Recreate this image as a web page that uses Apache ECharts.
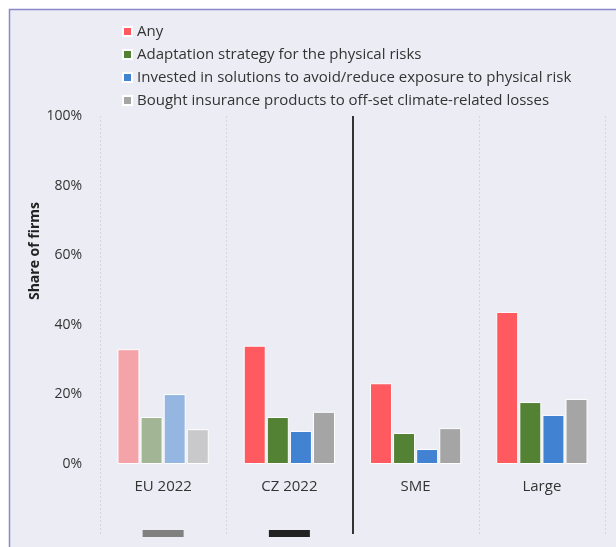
<!DOCTYPE html>
<html>
<head>
<meta charset="utf-8">
<script src="https://cdn.jsdelivr.net/npm/echarts@6/dist/echarts.min.js"></script>
<style>
  html, body { margin: 0; padding: 0; background: #fff; }
  #chart { width: 616px; height: 547px; }
</style>
</head>
<body>
<div id="chart"></div>
<script>
// categories and values (share of firms)
const categories = ['EU 2022', 'CZ 2022', 'SME', 'Large']
const seriesNames = [
  'Any',
  'Adaptation strategy for the physical risks',
  'Invested in solutions to avoid/reduce exposure to physical risk',
  'Bought insurance products to off-set climate-related losses'
]
const anyVals = [0.33, 0.34, 0.232, 0.437]
const adaptVals = [0.135, 0.135, 0.089, 0.178]
const investVals = [0.201, 0.095, 0.043, 0.141]
const insureVals = [0.10, 0.15, 0.103, 0.187]
const yTicks = [0, 0.2, 0.4, 0.6, 0.8, 1]

const colors = ['#FF5A5F', '#548235', '#4282D3', '#A5A5A5']
const fadedColors = ['#F4A3A8', '#A2B696', '#96B6E2', '#C9C9CC']
const allVals = [anyVals, adaptVals, investVals, insureVals]

const font = '"Open Sans", "Noto Sans", sans-serif'

const chart = echarts.init(document.getElementById('chart'))

// bar series, the EU column drawn in faded colours
const barSeries = allVals.map((vals, i) => ({
  name: seriesNames[i],
  type: 'bar',
  xAxisIndex: 0,
  yAxisIndex: 0,
  barWidth: 22,
  barGap: '5%',
  itemStyle: { color: colors[i], borderColor: '#fff', borderWidth: 1 },
  data: vals.map((v, j) => j === 0
    ? { value: v, itemStyle: { color: fadedColors[i] } }
    : v)
}))

const option = {
  backgroundColor: '#fff',
  animation: false,
  graphic: [{
    type: 'rect',
    z: -10,
    shape: { x: 9.5, y: 9.5, width: 700, height: 700 },
    style: { fill: '#ECECF5', stroke: '#8B88CC', lineWidth: 1.5 }
  }],
  legend: {
    orient: 'vertical',
    left: 117,
    top: 19,
    itemWidth: 9,
    itemHeight: 9,
    itemGap: 8,
    icon: 'rect',
    data: seriesNames,
    textStyle: { fontFamily: font, fontSize: 15, color: '#333' }
  },
  grid: [
    { left: 100, right: 11, top: 116, bottom: 83 },
    { left: 100, right: 11, top: 116, bottom: 13 }
  ],
  xAxis: [
    {
      type: 'category',
      gridIndex: 0,
      data: categories,
      axisLine: { show: false },
      axisTick: { show: false },
      axisLabel: { margin: 15, fontFamily: font, fontSize: 15, color: '#333' }
    },
    {
      type: 'value',
      gridIndex: 1,
      min: 0,
      max: 4,
      interval: 1,
      axisLine: { show: false },
      axisTick: { show: false },
      axisLabel: { show: false },
      splitLine: { show: true, lineStyle: { type: [2, 2], color: '#D6D6E0', width: 1 } }
    }
  ],
  yAxis: [
    {
      type: 'value',
      gridIndex: 0,
      min: yTicks[0],
      max: yTicks[yTicks.length - 1],
      interval: 0.2,
      name: 'Share of firms',
      nameLocation: 'middle',
      nameRotate: 90,
      nameGap: 58,
      nameMoveOverlap: false,
      nameTextStyle: {
        fontFamily: font, fontSize: 14, fontWeight: 'bold', color: '#222',
        padding: [0, 0, 0, 78]
      },
      axisLine: { show: false },
      axisTick: { show: false },
      splitLine: { show: false },
      axisLabel: {
        margin: 18,
        fontFamily: font,
        fontSize: 14,
        color: '#333',
        formatter: v => Math.round(v * 100) + '%'
      }
    },
    {
      type: 'value',
      gridIndex: 1,
      min: 0,
      max: 1,
      show: false
    }
  ],
  series: barSeries.concat([{
    type: 'scatter',
    xAxisIndex: 1,
    yAxisIndex: 1,
    symbol: 'rect',
    symbolSize: [41, 7],
    silent: true,
    itemStyle: { opacity: 1 },
    data: [
      { value: [0.5, 0.001], itemStyle: { color: '#808080', opacity: 1 } },
      { value: [1.5, 0.001], itemStyle: { color: '#222', opacity: 1 } }
    ],
    markLine: {
      silent: true,
      symbol: 'none',
      label: { show: false },
      lineStyle: { color: '#333', width: 2, type: 'solid' },
      data: [{ xAxis: 2 }]
    }
  }])
}

chart.setOption(option)
</script>
</body>
</html>
